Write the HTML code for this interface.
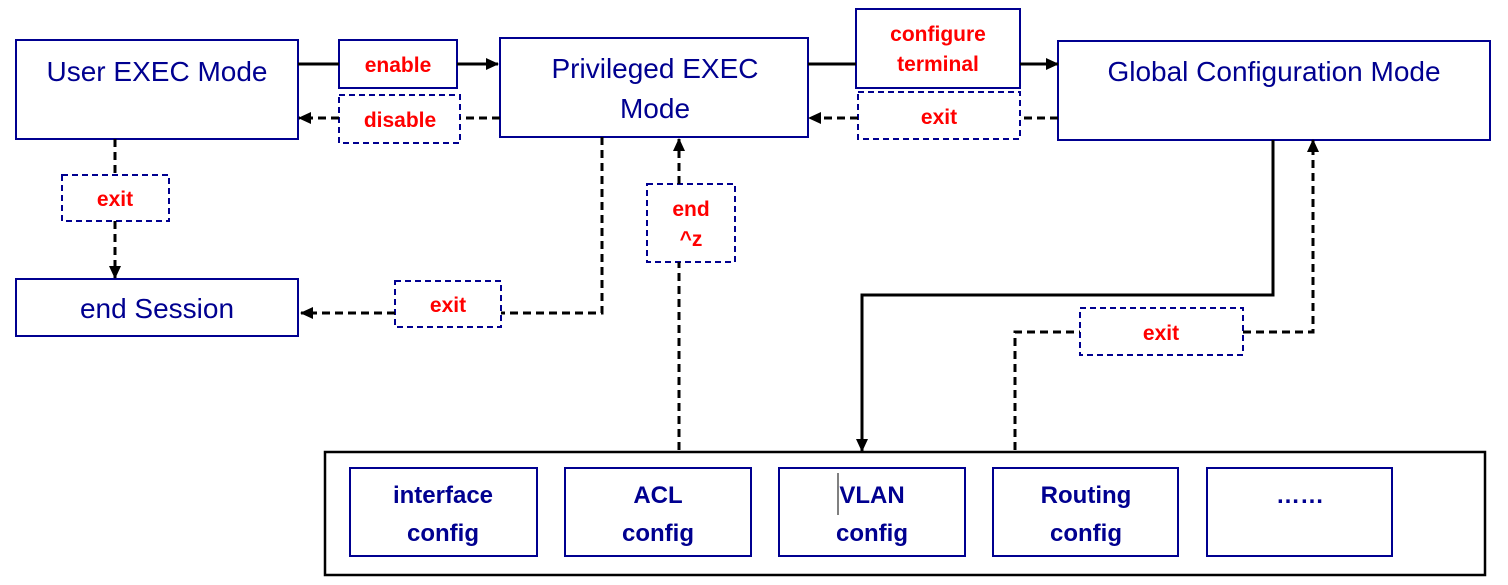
<!DOCTYPE html>
<html><head><meta charset="utf-8"><style>
html,body{margin:0;padding:0;background:#fff;}
svg{display:block;}
.m{font-family:"Liberation Sans",sans-serif;font-size:28px;fill:#000090;}
.c{font-family:"Liberation Sans",sans-serif;font-size:21px;font-weight:bold;fill:#ff0000;}
.b{font-family:"Liberation Sans",sans-serif;font-size:24px;font-weight:bold;fill:#000090;}
</style></head><body>
<svg width="1508" height="585" viewBox="0 0 1508 585" xmlns="http://www.w3.org/2000/svg">
<defs>
<marker id="a" markerWidth="13" markerHeight="12" refX="12" refY="6" orient="auto" markerUnits="userSpaceOnUse" viewBox="0 0 13 12">
<path d="M0,0 L13,6 L0,12 z" fill="#000"/></marker>
</defs>
<g fill="none" stroke="#000090" stroke-width="2">
<rect x="16" y="40" width="282" height="99"/>
<rect x="500" y="38" width="308" height="99"/>
<rect x="1058" y="41" width="432" height="99"/>
<rect x="16" y="279" width="282" height="57"/>
<rect x="339" y="40" width="118" height="48"/>
<rect x="856" y="9" width="164" height="79"/>
<g stroke-dasharray="6,4">
<rect x="339" y="95" width="121" height="48"/>
<rect x="858" y="92" width="162" height="47"/>
<rect x="62" y="175" width="107" height="46"/>
<rect x="395" y="281" width="106" height="46"/>
<rect x="647" y="184" width="88" height="78"/>
<rect x="1080" y="308" width="163" height="47"/>
</g>
<rect x="350" y="468" width="187" height="88"/>
<rect x="565" y="468" width="186" height="88"/>
<rect x="779" y="468" width="186" height="88"/>
<rect x="993" y="468" width="185" height="88"/>
<rect x="1207" y="468" width="185" height="88"/>
</g>
<rect x="325" y="452" width="1160" height="123" fill="none" stroke="#000" stroke-width="2.5"/>
<g fill="none" stroke="#000" stroke-width="3">
<line x1="298" y1="64" x2="339" y2="64"/>
<line x1="457" y1="64" x2="498" y2="64" marker-end="url(#a)"/>
<line x1="808" y1="64" x2="856" y2="64"/>
<line x1="1020" y1="64" x2="1058" y2="64" marker-end="url(#a)"/>
<polyline points="1273,140 1273,295 862,295 862,451" marker-end="url(#a)"/>
<g stroke-dasharray="8,5">
<line x1="500" y1="118" x2="460" y2="118"/>
<line x1="339" y1="118" x2="299" y2="118" marker-end="url(#a)"/>
<line x1="1058" y1="118" x2="1020" y2="118"/>
<line x1="858" y1="118" x2="809" y2="118" marker-end="url(#a)"/>
<line x1="115" y1="139" x2="115" y2="175"/>
<line x1="115" y1="221" x2="115" y2="278" marker-end="url(#a)"/>
<polyline points="602,137 602,313 501,313"/>
<line x1="395" y1="313" x2="301" y2="313" marker-end="url(#a)"/>
<line x1="679" y1="450" x2="679" y2="262"/>
<line x1="679" y1="184" x2="679" y2="139" marker-end="url(#a)"/>
<polyline points="1015,450 1015,332 1080,332"/>
<polyline points="1243,332 1313,332 1313,140" marker-end="url(#a)"/>
</g>
</g>
<text class="m" x="157" y="81" text-anchor="middle">User EXEC Mode</text>
<text class="m" x="655" y="78" text-anchor="middle">Privileged EXEC</text>
<text class="m" x="655" y="118" text-anchor="middle">Mode</text>
<text class="m" x="1274" y="81" text-anchor="middle">Global Configuration Mode</text>
<text class="m" x="157" y="318" text-anchor="middle">end Session</text>
<g text-anchor="middle">
<text class="c" x="398" y="72">enable</text>
<text class="c" x="400" y="127">disable</text>
<text class="c" x="938" y="41">configure</text>
<text class="c" x="938" y="71">terminal</text>
<text class="c" x="939" y="124">exit</text>
<text class="c" x="115" y="206">exit</text>
<text class="c" x="448" y="312">exit</text>
<text class="c" x="691" y="216">end</text>
<text class="c" x="691" y="246">^z</text>
<text class="c" x="1161" y="340">exit</text>
<text class="b" x="443" y="503">interface</text>
<text class="b" x="443" y="541">config</text>
<text class="b" x="658" y="503">ACL</text>
<text class="b" x="658" y="541">config</text>
<text class="b" x="872" y="503">VLAN</text>
<text class="b" x="872" y="541">config</text>
<text class="b" x="1086" y="503">Routing</text>
<text class="b" x="1086" y="541">config</text>
<text class="b" x="1300" y="503">……</text>
</g>
<line x1="838" y1="473" x2="838" y2="515" stroke="#000" stroke-width="1"/>
</svg>
</body></html>
